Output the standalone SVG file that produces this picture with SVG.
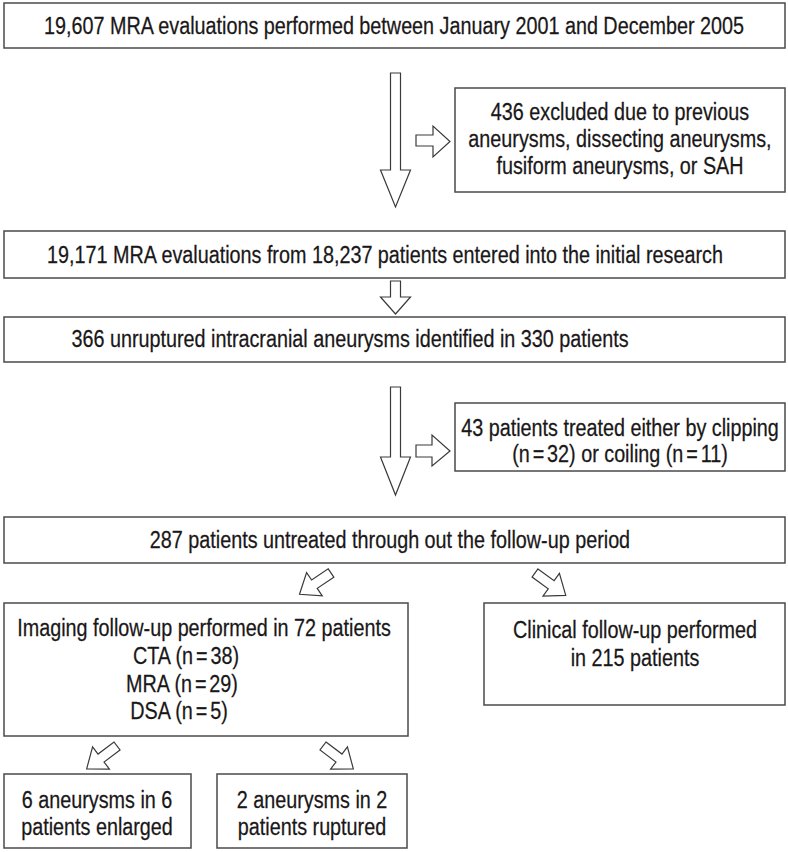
<svg xmlns="http://www.w3.org/2000/svg" width="788" height="852" viewBox="0 0 788 852">
<defs>
<style>
.box{fill:#fff;stroke:#4a4a4a;stroke-width:1.5}
.arr{fill:#fff;stroke:#3a3a3a;stroke-width:1.2;stroke-linejoin:miter}
text{font-family:"Liberation Sans",Arial,sans-serif;font-size:23px;fill:#1a1718;stroke:#1a1718;stroke-width:0.25;text-anchor:middle;transform-box:fill-box;transform-origin:center;transform:scaleX(0.86)}
.n{word-spacing:-3px}
</style>
<polygon id="diag" points="0,-5 20,-5 20,-14 38,0 20,14 20,5 0,5"/>
</defs>
<rect width="788" height="852" fill="#fff"/>
<g id="connectors">
<polygon class="arr" points="390.5,73 400.5,73 400.5,170 410.5,170 395.5,207 380.5,170 390.5,170"/>
<polygon class="arr" points="416,135 433,135 433,126 450,141.5 433,157 433,146 416,146"/>
<polygon class="arr" points="390.5,281 400.5,281 400.5,297 410.5,297 395.5,314 380.5,297 390.5,297"/>
<polygon class="arr" points="390.5,387 400.5,387 400.5,457 410.5,457 395.5,495 380.5,457 390.5,457"/>
<polygon class="arr" points="416,445 432,445 432,435 450,451 432,466 432,457 416,457"/>
<use href="#diag" class="arr" transform="translate(331,573) rotate(146)"/>
<use href="#diag" class="arr" transform="translate(535,573) rotate(36)"/>
<use href="#diag" class="arr" transform="translate(117,746) rotate(143)"/>
<use href="#diag" class="arr" transform="translate(323,746) rotate(37)"/>
</g>
<g id="n1"><rect class="box" x="4" y="3" width="781" height="45"/><text x="394" y="34">19,607 MRA evaluations performed between January 2001 and December 2005</text></g>
<g id="n2"><rect class="box" x="455" y="88" width="330" height="104"/><text x="620" y="120">436 excluded due to previous</text><text x="620" y="147">aneurysms, dissecting aneurysms,</text><text x="620" y="174">fusiform aneurysms, or SAH</text></g>
<g id="n3"><rect class="box" x="4" y="231" width="781" height="47"/><text x="385" y="263">19,171 MRA evaluations from 18,237 patients entered into the initial research</text></g>
<g id="n4"><rect class="box" x="4" y="317" width="781" height="45"/><text x="350" y="347">366 unruptured intracranial aneurysms identified in 330 patients</text></g>
<g id="n5"><rect class="box" x="455" y="403" width="330" height="68"/><text x="620" y="436">43 patients treated either by clipping</text><text x="620" y="462">(<tspan class="n">n = 32</tspan>) or coiling (<tspan class="n">n = 11</tspan>)</text></g>
<g id="n6"><rect class="box" x="4" y="517" width="781" height="46"/><text x="390" y="548">287 patients untreated through out the follow-up period</text></g>
<g id="n7"><rect class="box" x="4" y="603" width="404" height="133"/><text x="204" y="636">Imaging follow-up performed in 72 patients</text><text x="186" y="664">CTA (<tspan class="n">n = 38</tspan>)</text><text x="182" y="692">MRA (<tspan class="n">n = 29</tspan>)</text><text x="179" y="719">DSA (<tspan class="n">n = 5</tspan>)</text></g>
<g id="n8"><rect class="box" x="484" y="603" width="301" height="102"/><text x="635" y="638">Clinical follow-up performed</text><text x="635" y="666">in 215 patients</text></g>
<g id="n9"><rect class="box" x="4" y="774" width="187" height="74"/><text x="97" y="808">6 aneurysms in 6</text><text x="97" y="835">patients enlarged</text></g>
<g id="n10"><rect class="box" x="217" y="774" width="190" height="74"/><text x="312" y="808">2 aneurysms in 2</text><text x="312" y="835">patients ruptured</text></g>
</svg>
